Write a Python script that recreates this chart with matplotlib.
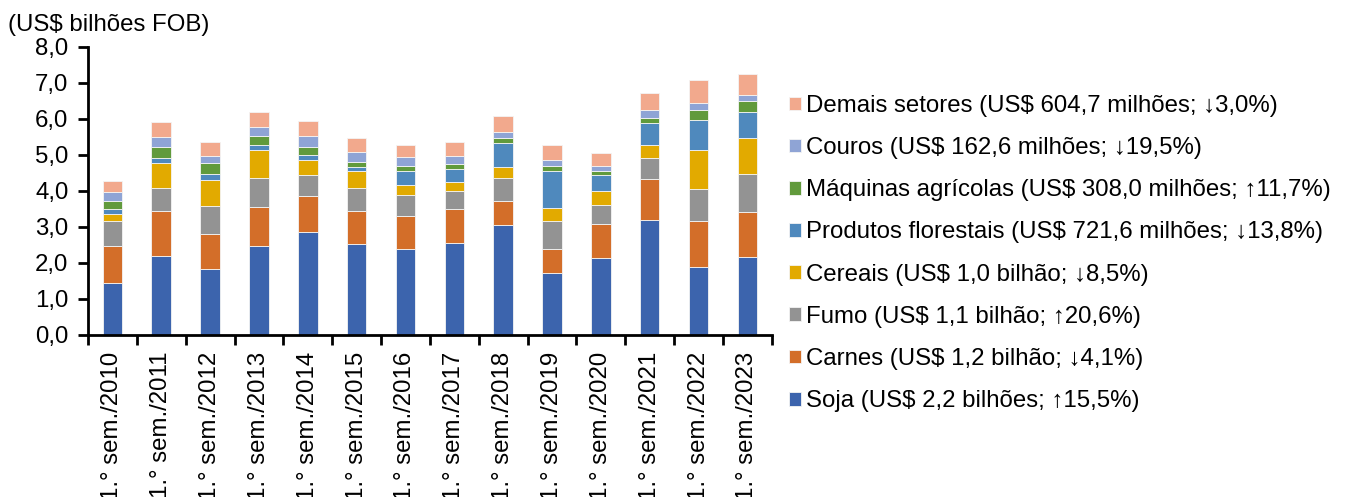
import matplotlib.pyplot as plt
import numpy as np

plt.rcParams['font.family'] = ['Liberation Sans', 'DejaVu Sans']

anos = ['1.° sem./2010', '1.° sem./2011', '1.° sem./2012', '1.° sem./2013',
        '1.° sem./2014', '1.° sem./2015', '1.° sem./2016', '1.° sem./2017',
        '1.° sem./2018', '1.° sem./2019', '1.° sem./2020', '1.° sem./2021',
        '1.° sem./2022', '1.° sem./2023']

soja = [1.43, 2.19, 1.82, 2.46, 2.86, 2.52, 2.38, 2.55, 3.06, 1.71, 2.13, 3.18, 1.88, 2.16]
carnes = [1.05, 1.24, 0.98, 1.08, 1.00, 0.93, 0.91, 0.96, 0.67, 0.67, 0.94, 1.14, 1.27, 1.24]
fumo = [0.69, 0.66, 0.79, 0.82, 0.57, 0.62, 0.60, 0.48, 0.63, 0.78, 0.54, 0.60, 0.89, 1.07]
cereais = [0.18, 0.69, 0.72, 0.76, 0.43, 0.49, 0.27, 0.25, 0.29, 0.37, 0.39, 0.34, 1.09, 0.99]
florestais = [0.15, 0.14, 0.16, 0.15, 0.13, 0.11, 0.40, 0.36, 0.67, 1.02, 0.45, 0.61, 0.85, 0.72]
maquinas = [0.22, 0.30, 0.29, 0.24, 0.23, 0.12, 0.12, 0.15, 0.14, 0.15, 0.10, 0.16, 0.27, 0.31]
couros = [0.24, 0.28, 0.21, 0.26, 0.31, 0.28, 0.25, 0.22, 0.18, 0.16, 0.13, 0.22, 0.20, 0.16]
demais = [0.31, 0.42, 0.38, 0.42, 0.41, 0.39, 0.33, 0.38, 0.45, 0.42, 0.37, 0.46, 0.62, 0.60]

series = [soja, carnes, fumo, cereais, florestais, maquinas, couros, demais]
nomes = ['Soja (US$ 2,2 bilhões; ↑15,5%)',
         'Carnes (US$ 1,2 bilhão; ↓4,1%)',
         'Fumo (US$ 1,1 bilhão; ↑20,6%)',
         'Cereais (US$ 1,0 bilhão; ↓8,5%)',
         'Produtos florestais (US$ 721,6 milhões; ↓13,8%)',
         'Máquinas agrícolas (US$ 308,0 milhões; ↑11,7%)',
         'Couros (US$ 162,6 milhões; ↓19,5%)',
         'Demais setores (US$ 604,7 milhões; ↓3,0%)']
cores = ['#3c64ad', '#d36e29', '#939393', '#e2aa00',
         '#4f89bd', '#619a3c', '#8fa4d5', '#f2a98d']

fs = 17.3

fig = plt.figure(figsize=(13.47, 4.97), dpi=100)
ax = fig.add_axes([0.0653, 0.326, 0.5077, 0.58])

x = np.arange(len(anos))
base = np.zeros(len(anos))
handles = []
for vals, nome, cor in zip(series, nomes, cores):
    b = ax.bar(x, vals, 0.40, bottom=base, color=cor, edgecolor='#f4f4f4',
               linewidth=0.6, label=nome)
    handles.append(b)
    base += np.array(vals)

ax.set_xlim(-0.5, len(anos) - 0.5)
ax.set_ylim(0, 8)
ax.set_yticks(np.arange(0, 9, 1))
ax.set_yticklabels([f'{v:.1f}'.replace('.', ',') for v in range(9)], fontsize=fs)
ax.set_xticks(x)
ax.set_xticklabels(anos, rotation=90, fontsize=fs)
ax.tick_params(axis='x', length=0, pad=12)
ax.set_xticks(np.arange(-0.5, len(anos), 1), minor=True)
ax.tick_params(axis='x', which='minor', length=7, width=2, direction='out')
ax.tick_params(axis='y', length=7, width=2, direction='out', pad=7)
for s in ['top', 'right']:
    ax.spines[s].set_visible(False)
for s in ['left', 'bottom']:
    ax.spines[s].set_linewidth(2)

fig.text(0.006, 0.95, '(US$ bilhões FOB)', fontsize=fs, va='center', ha='left')

fig.legend(handles[::-1], nomes[::-1], loc='upper left',
           bbox_to_anchor=(0.586, 0.809), frameon=False, fontsize=fs,
           handlelength=0.5, handleheight=0.5, handletextpad=0.2,
           labelspacing=0.84, borderaxespad=0, borderpad=0)

fig.savefig('out.png', dpi=100)
